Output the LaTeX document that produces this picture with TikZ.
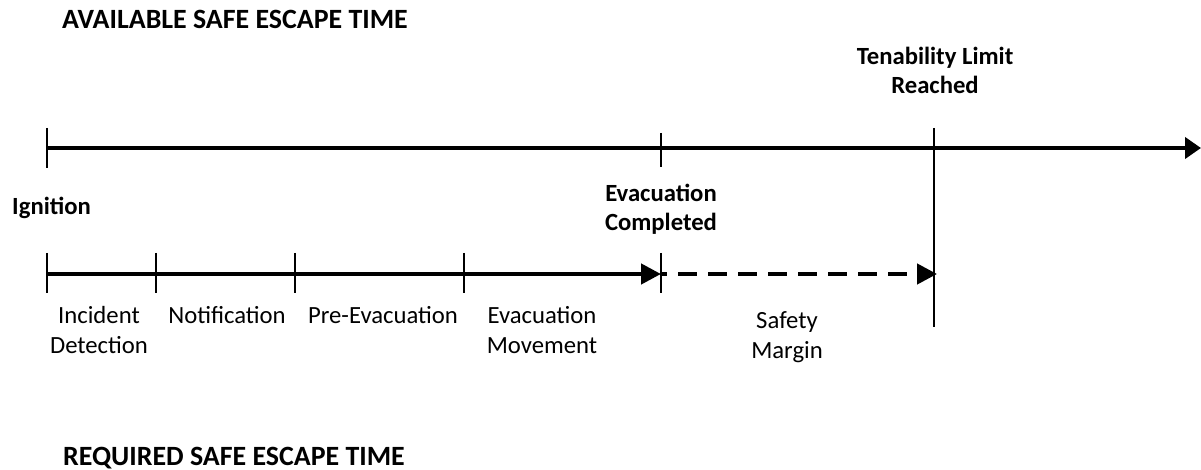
\documentclass[tikz,border=0pt]{standalone}
\usepackage{fontspec}
\setmainfont{Carlito}
\usetikzlibrary{arrows.meta}
\begin{document}
\begin{tikzpicture}[x=1pt,y=-1pt,
  thickline/.style={line width=4.4pt},
  tickline/.style={line width=1.1pt},
  lbl/.style={inner sep=0pt,anchor=base,align=center,font=\fontsize{24.7}{29.5}\selectfont},
  blbl/.style={lbl,font=\fontsize{24.7}{29}\selectfont\bfseries},
  ttl/.style={inner sep=0pt,anchor=base west,font=\fontsize{27.9}{32}\selectfont\bfseries},
  bigtip/.style={-{Triangle[length=16pt,width=21pt]}},
  smalltip/.style={-{Triangle[length=20pt,width=20pt]}}]
\useasboundingbox (0,0) rectangle (1201,470);
% titles
\node[ttl] (aset) at (62,29) {AVAILABLE SAFE ESCAPE TIME};
\node[ttl] (rset) at (63,465) {REQUIRED SAFE ESCAPE TIME};
% top timeline
\coordinate (a0) at (47,148);
\coordinate (a1) at (661,148);
\coordinate (a2) at (934,148);
\coordinate (aend) at (1201,148);
\draw[thickline,bigtip] (a0) -- (aend);
\draw[tickline] (47,128) -- (47,168);
\draw[tickline] (661,133) -- (661,167);
\draw[tickline] (934,128) -- (934,327);
% bottom timeline
\coordinate (b0) at (47,274);
\coordinate (b1) at (156,274);
\coordinate (b2) at (295,274);
\coordinate (b3) at (464,274);
\coordinate (b4) at (661,274);
\coordinate (b5) at (937,274);
\draw[thickline,smalltip] (b0) -- (b4);
\draw[thickline,smalltip,dash pattern=on 19pt off 11pt,dash phase=13pt] (b4) -- (b5);
\foreach \xx in {47,156,295,464,661}
  \draw[tickline] (\xx,253) -- (\xx,293);
% event labels (anchor = baseline of last line)
\node[blbl] (ten) at (935,94) {Tenability Limit\\Reached};
\node[blbl,anchor=base west] (ign) at (12,215) {Ignition};
\node[blbl] (evc) at (661,231) {Evacuation\\Completed};
% phase labels
\node[lbl] (det) at (99,353) {Incident\\Detection};
\node[lbl] (not) at (227,323) {Notification};
\node[lbl] (pre) at (383,323) {Pre-Evacuation};
\node[lbl] (mov) at (542,353) {Evacuation\\Movement};
\node[lbl] (saf) at (787,358) {Safety\\Margin};
\end{tikzpicture}
\end{document}
